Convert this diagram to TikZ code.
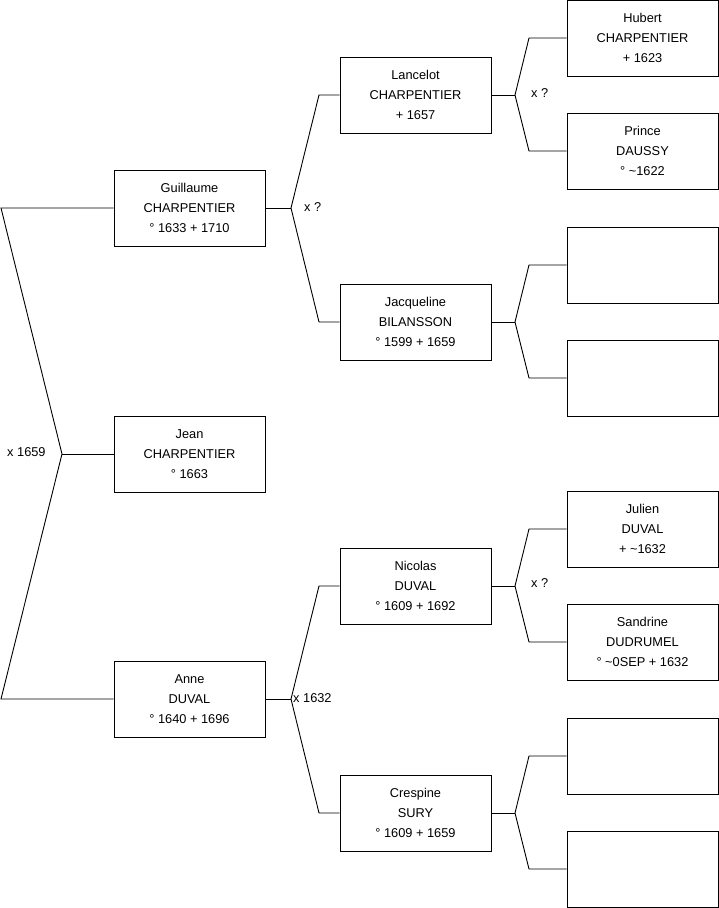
\documentclass[tikz,border=0pt]{standalone}
\usepackage{fontspec}
\setmainfont{Liberation Sans}
\begin{document}
\begin{tikzpicture}[x=1pt,y=-1pt,
  person/.style={draw=black,line width=0.9pt,fill=white,minimum width=151pt,minimum height=76pt,
    inner sep=0pt,align=center,font=\fontsize{12.8}{20}\selectfont},
  link/.style={draw=black,line width=0.9pt},
  marr/.style={anchor=west,inner sep=0pt,font=\fontsize{12.8}{15}\selectfont}]
\useasboundingbox (0,0) rectangle (719,908);
% column 1
\node[person] (guillaume) at (189.5,208) {Guillaume\\CHARPENTIER\\° 1633 + 1710};
\node[person] (jean) at (189.5,454) {Jean\\CHARPENTIER\\° 1663};
\node[person] (anne) at (189.5,699) {Anne\\DUVAL\\° 1640 + 1696};
% column 2
\node[person] (lancelot) at (415.5,95) {Lancelot\\CHARPENTIER\\+ 1657};
\node[person] (jacqueline) at (415.5,322) {Jacqueline\\BILANSSON\\° 1599 + 1659};
\node[person] (nicolas) at (415.5,586) {Nicolas\\DUVAL\\° 1609 + 1692};
\node[person] (crespine) at (415.5,813) {Crespine\\SURY\\° 1609 + 1659};
% column 3
\node[person] (hubert) at (642.5,38) {Hubert\\CHARPENTIER\\+ 1623};
\node[person] (prince) at (642.5,151) {Prince\\DAUSSY\\° \textasciitilde1622};
\node[person] (e1) at (642.5,265) {};
\node[person] (e2) at (642.5,378) {};
\node[person] (julien) at (642.5,529) {Julien\\DUVAL\\+ \textasciitilde1632};
\node[person] (sandrine) at (642.5,642) {Sandrine\\DUDRUMEL\\° \textasciitilde0SEP + 1632};
\node[person] (e3) at (642.5,756) {};
\node[person] (e4) at (642.5,869) {};
% root bracket
\coordinate (r0) at (1,208);
\coordinate (r1) at (62,454);
\coordinate (r2) at (1,699);
\draw[link] (guillaume.west) -- (r0) -- (r1) -- (r2) -- (anne.west);
\draw[link] (r1) -- (jean.west);
\node[marr] (m0) at (7,452) {x 1659};
% Guillaume family
\coordinate (a1) at (291,208);
\coordinate (a1u) at (319,95);
\coordinate (a1d) at (319,322);
\draw[link] (guillaume.east) -- (a1);
\draw[link] (a1) -- (a1u) -- (lancelot.west);
\draw[link] (a1) -- (a1d) -- (jacqueline.west);
\node[marr] (m1) at (304,207) {x ?};
% Anne family
\coordinate (a2) at (291,699);
\coordinate (a2u) at (319,586);
\coordinate (a2d) at (319,813);
\draw[link] (anne.east) -- (a2);
\draw[link] (a2) -- (a2u) -- (nicolas.west);
\draw[link] (a2) -- (a2d) -- (crespine.west);
\node[marr] (m2) at (293,698) {x 1632};
% Lancelot family
\coordinate (b1) at (515,95);
\coordinate (b1u) at (529,38);
\coordinate (b1d) at (529,151);
\draw[link] (lancelot.east) -- (b1);
\draw[link] (b1) -- (b1u) -- (hubert.west);
\draw[link] (b1) -- (b1d) -- (prince.west);
\node[marr] (m3) at (531,93) {x ?};
% Jacqueline family
\coordinate (b2) at (515,322);
\coordinate (b2u) at (529,265);
\coordinate (b2d) at (529,378);
\draw[link] (jacqueline.east) -- (b2);
\draw[link] (b2) -- (b2u) -- (e1.west);
\draw[link] (b2) -- (b2d) -- (e2.west);
% Nicolas family
\coordinate (b3) at (515,586);
\coordinate (b3u) at (529,529);
\coordinate (b3d) at (529,642);
\draw[link] (nicolas.east) -- (b3);
\draw[link] (b3) -- (b3u) -- (julien.west);
\draw[link] (b3) -- (b3d) -- (sandrine.west);
\node[marr] (m4) at (531,583) {x ?};
% Crespine family
\coordinate (b4) at (515,813);
\coordinate (b4u) at (529,756);
\coordinate (b4d) at (529,869);
\draw[link] (crespine.east) -- (b4);
\draw[link] (b4) -- (b4u) -- (e3.west);
\draw[link] (b4) -- (b4d) -- (e4.west);
\end{tikzpicture}
\end{document}
